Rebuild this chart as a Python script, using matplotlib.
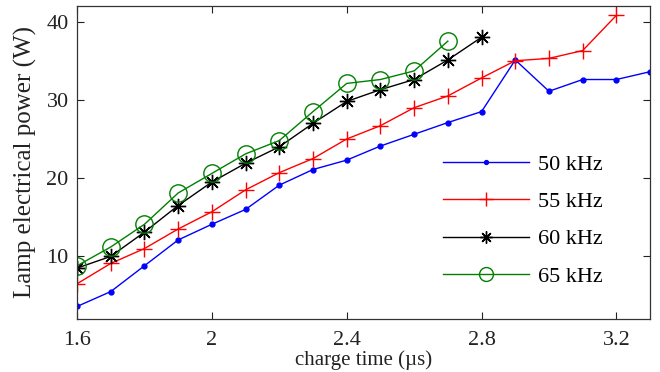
import matplotlib
matplotlib.use("Agg")
import matplotlib.pyplot as plt

plt.rcParams['font.family'] = ['Liberation Serif', 'DejaVu Serif']
plt.rcParams['mathtext.fontset'] = 'stix'

x50 = [1.6, 1.7, 1.8, 1.9, 2.0, 2.1, 2.2, 2.3, 2.4, 2.5, 2.6, 2.7, 2.8, 2.9, 3.0, 3.1, 3.2, 3.3]
y50 = [3.6, 5.5, 8.8, 12.1, 14.1, 16.0, 19.1, 21.1, 22.3, 24.1, 25.6, 27.1, 28.5, 35.1, 31.1, 32.6, 32.6, 33.6]
x55 = [1.6, 1.7, 1.8, 1.9, 2.0, 2.1, 2.2, 2.3, 2.4, 2.5, 2.6, 2.7, 2.8, 2.9, 3.0, 3.1, 3.2]
y55 = [6.5, 9.1, 11.0, 13.5, 15.7, 18.5, 20.7, 22.5, 25.0, 26.7, 29.0, 30.5, 32.8, 35.0, 35.3, 36.3, 40.8]
x60 = [1.6, 1.7, 1.8, 1.9, 2.0, 2.1, 2.2, 2.3, 2.4, 2.5, 2.6, 2.7, 2.8]
y60 = [8.5, 10.0, 13.1, 16.5, 19.5, 21.9, 24.0, 27.0, 29.8, 31.3, 32.6, 35.1, 38.0]
x65 = [1.6, 1.7, 1.8, 1.9, 2.0, 2.1, 2.2, 2.3, 2.4, 2.5, 2.6, 2.7]
y65 = [8.8, 11.2, 14.1, 18.1, 20.6, 23.1, 24.8, 28.5, 32.1, 32.6, 33.7, 37.5]

labels = ['50 kHz', '55 kHz', '60 kHz', '65 kHz']
xticks = [1.6, 2.0, 2.4, 2.8, 3.2]
xticklabels = ['1.6', '2', '2.4', '2.8', '3.2']
yticks = [10, 20, 30, 40]

fig = plt.figure(figsize=(6.6, 3.72), dpi=100)
ax = fig.add_axes([0.1167, 0.1425, 0.8683, 0.8415])

ax.plot(x50, y50, color='#0000ff', lw=1.0, marker='.', ms=7, label=labels[0])
ax.plot(x55, y55, color='#ff0000', lw=1.0, marker='+', ms=12, mew=1.0, label=labels[1])
ax.plot(x60, y60, color='#000000', lw=1.0, marker=(8, 2, 0), ms=11, mew=1.0, label=labels[2])
ax.plot(x65, y65, color='#008000', lw=1.0, marker='o', ms=12.5, mfc='none', mew=1.0, label=labels[3])

ax.set_xlim(1.6, 3.3)
ax.set_ylim(2, 42)
ax.set_xticks(xticks)
ax.set_xticklabels(xticklabels)
ax.set_yticks(yticks)
ax.tick_params(direction='in', top=True, right=True, length=5, width=0.8,
               labelsize=16, colors='#222222', pad=6)
ax.tick_params(axis='x', pad=8.5)
for s in ax.spines.values():
    s.set_color('#333333')
    s.set_linewidth(0.9)

ax.set_ylabel('Lamp electrical power (W)', fontsize=18, color='#222222', labelpad=7)
ax.set_xlabel('charge time (µs)', fontsize=15, color='#222222', labelpad=0)

leg = ax.legend(loc='upper left', frameon=False, fontsize=16, handlelength=3.85,
                handletextpad=0.4, labelspacing=0.75, borderaxespad=0, borderpad=0,
                markerscale=0.8, bbox_to_anchor=(0.639, 0.526))

fig.savefig('out.png', dpi=100)
